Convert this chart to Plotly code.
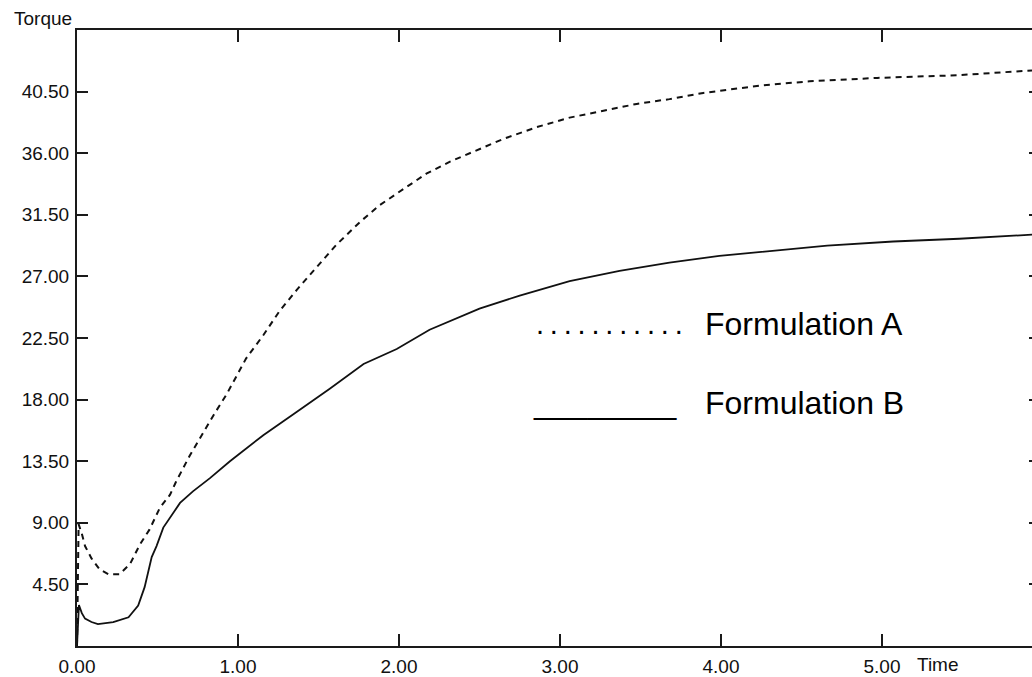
import plotly.graph_objects as go

# ---- data ----
time_a = [0.000, 0.010, 0.030, 0.050, 0.090, 0.140, 0.195, 0.265, 0.330, 0.390,
          0.450, 0.515, 0.578, 0.615, 0.700, 0.764, 0.850, 0.930, 0.970, 1.050,
          1.157, 1.260, 1.364, 1.490, 1.610, 1.760, 1.880, 2.030, 2.170, 2.320,
          2.480, 2.650, 2.855, 3.060, 3.270, 3.476, 3.680, 3.890, 4.250, 4.550,
          4.970, 5.480, 5.932]
torque_a = [0.0, 8.9, 8.2, 7.3, 6.4, 5.6, 5.25, 5.25, 6.0, 7.4,
            8.5, 10.1, 11.05, 12.0, 13.9, 15.2, 16.9, 18.4, 19.3, 21.0,
            22.7, 24.5, 26.0, 27.7, 29.3, 31.0, 32.2, 33.4, 34.5, 35.4,
            36.2, 37.05, 37.9, 38.6, 39.1, 39.6, 39.95, 40.4, 40.95, 41.25,
            41.5, 41.7, 42.05]

time_b = [0.000, 0.012, 0.030, 0.050, 0.090, 0.130, 0.225, 0.320, 0.380, 0.420,
          0.464, 0.494, 0.536, 0.578, 0.640, 0.720, 0.826, 0.950, 1.157, 1.364,
          1.570, 1.780, 1.986, 2.190, 2.500, 2.750, 3.060, 3.370, 3.680, 3.990,
          4.300, 4.660, 5.070, 5.480, 5.932]
torque_b = [0.0, 3.0, 2.4, 2.0, 1.75, 1.6, 1.75, 2.1, 2.95, 4.3,
            6.5, 7.3, 8.65, 9.36, 10.45, 11.3, 12.26, 13.5, 15.4, 17.1,
            18.8, 20.6, 21.7, 23.1, 24.65, 25.6, 26.65, 27.4, 28.0, 28.5,
            28.85, 29.25, 29.55, 29.75, 30.05]

x_ticks = [0, 1, 2, 3, 4, 5]
x_tick_text = ["0.00", "1.00", "2.00", "3.00", "4.00", "5.00"]
y_ticks = [4.5, 9.0, 13.5, 18.0, 22.5, 27.0, 31.5, 36.0, 40.5]
y_tick_text = ["4.50", "9.00", "13.50", "18.00", "22.50", "27.00", "31.50", "36.00", "40.50"]

x_range = [0, 5.932]
y_range = [0, 45.0]

AX = "#1a1a1a"
TICKFONT = dict(family="Liberation Sans, Arial, sans-serif", size=19, color="#111")
LEGFONT = dict(family="Liberation Sans, Arial, sans-serif", size=32, color="#000")
DOTFONT = dict(family="Liberation Sans, Arial, sans-serif", size=29, color="#000")

fig = go.Figure()
fig.add_trace(go.Scatter(x=time_a, y=torque_a, mode="lines", name="Formulation A",
                         line=dict(color="#111", width=2, dash="6px,5px"),
                         hoverinfo="skip"))
fig.add_trace(go.Scatter(x=time_b, y=torque_b, mode="lines", name="Formulation B",
                         line=dict(color="#111", width=1.8),
                         hoverinfo="skip"))

fig.update_layout(
    width=1032, height=677,
    margin=dict(l=77, r=0, t=30, b=28),
    paper_bgcolor="white", plot_bgcolor="white",
    showlegend=False,
    xaxis=dict(range=x_range, tickvals=x_ticks, ticktext=x_tick_text,
               ticks="inside", ticklen=12, tickwidth=2, tickcolor=AX,
               showline=True, linecolor=AX, linewidth=2, mirror="ticks",
               showgrid=False, zeroline=False, tickfont=TICKFONT,
               ticklabelstandoff=2),
    yaxis=dict(range=y_range, tickvals=y_ticks, ticktext=y_tick_text,
               ticks="inside", ticklen=11, tickwidth=2, tickcolor=AX,
               showline=True, linecolor=AX, linewidth=2,
               showgrid=False, zeroline=False, tickfont=TICKFONT,
               ticklabelstandoff=2),
    yaxis2=dict(range=y_range, tickvals=y_ticks, overlaying="y", side="right",
                ticks="inside", ticklen=3, tickwidth=2, tickcolor=AX,
                showline=False, showgrid=False, zeroline=False,
                showticklabels=False),
)

# invisible helper so the right-hand tick axis is drawn
fig.add_trace(go.Scatter(x=time_b, y=torque_b, yaxis="y2", mode="lines",
                         line=dict(width=0, color="rgba(0,0,0,0)"),
                         hoverinfo="skip", showlegend=False))

# axis titles
fig.add_annotation(text="Torque", xref="paper", yref="paper",
                   x=(12 - 77) / 955, y=(649 - 18) / 619, xanchor="left", yanchor="middle",
                   showarrow=False, font=TICKFONT)
fig.add_annotation(text="Time", xref="paper", yref="paper",
                   x=(915 - 77) / 955, y=(649 - 668) / 619, xanchor="left", yanchor="middle",
                   showarrow=False, font=TICKFONT)

# legend drawn as text, as in the reference
fig.add_annotation(text=".\u2009" * 10 + ".", xref="paper", yref="paper",
                   x=(534 - 77) / 955, y=(649 - 325) / 619, xanchor="left", yanchor="middle",
                   showarrow=False, font=DOTFONT)
fig.add_annotation(text="Formulation A", xref="paper", yref="paper",
                   x=(703 - 77) / 955, y=(649 - 325) / 619, xanchor="left", yanchor="middle",
                   showarrow=False, font=LEGFONT)
fig.add_annotation(text="_" * 8, xref="paper", yref="paper",
                   x=(531 - 77) / 955, y=(649 - 405) / 619, xanchor="left", yanchor="middle",
                   showarrow=False, font=LEGFONT)
fig.add_annotation(text="Formulation B", xref="paper", yref="paper",
                   x=(703 - 77) / 955, y=(649 - 405) / 619, xanchor="left", yanchor="middle",
                   showarrow=False, font=LEGFONT)

fig.write_html("out.html")
